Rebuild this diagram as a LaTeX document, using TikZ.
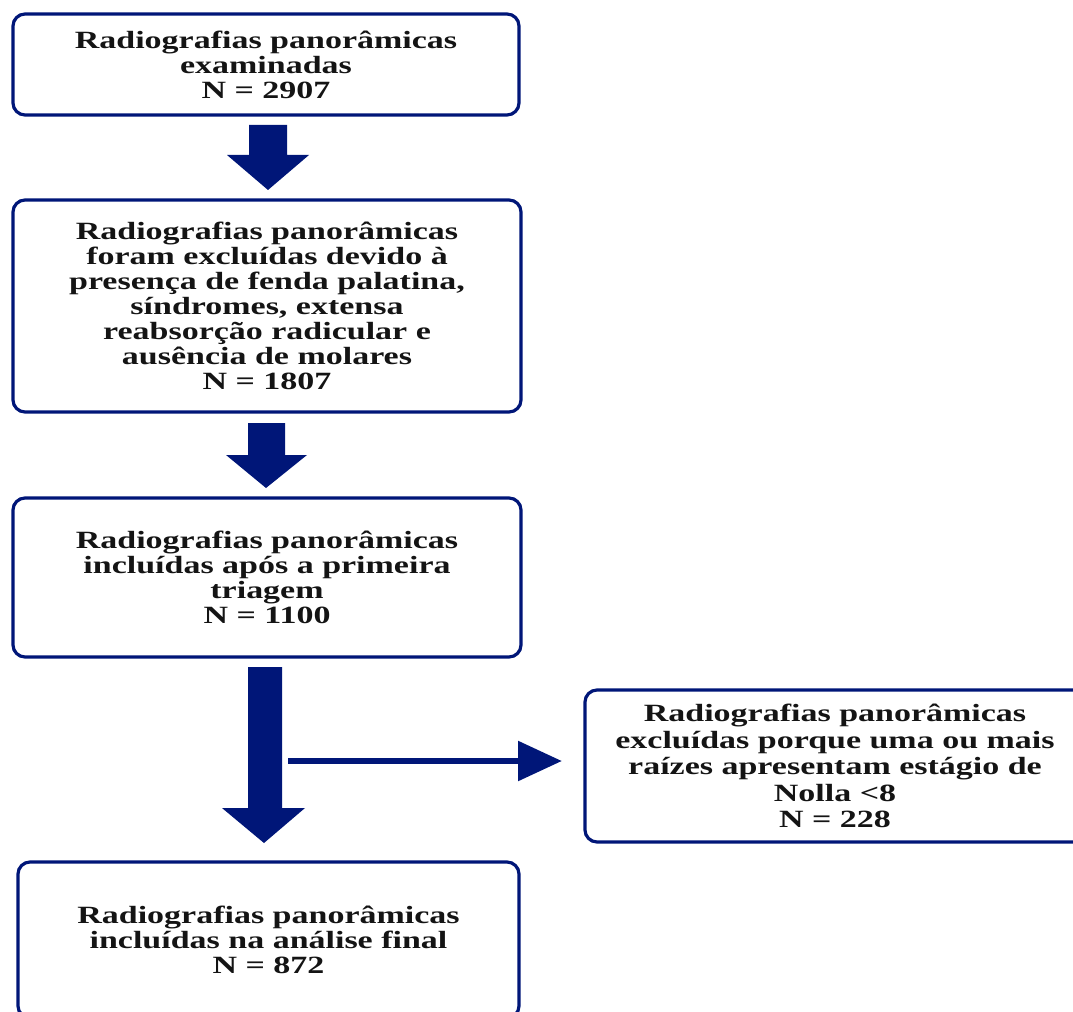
\documentclass[tikz,border=0pt]{standalone}
\usepackage{fontspec}
\setmainfont{Liberation Serif}[FakeStretch=1.37]
\usetikzlibrary{arrows.meta}
\definecolor{navy}{RGB}{0,22,120}
\definecolor{ink}{RGB}{20,20,20}
\begin{document}
\begin{tikzpicture}[x=0.75pt,y=-0.75pt,
  box/.style={draw=navy, line width=2.4pt, rounded corners=9pt, fill=white,
    align=center, inner sep=0pt, text=ink,
    font=\fontsize{18.6}{18.75}\selectfont\bfseries},
  blockarrow/.style={fill=navy, draw=none},
  thinarrow/.style={draw=navy, line width=5pt, -{Triangle[length=33pt,width=29pt]}}]
\useasboundingbox (0,0) rectangle (1073,1012);
\clip (0,0) rectangle (1073,1012);

\node[box, minimum width=379.5pt, minimum height=75.75pt] (b1) at (266,64.5)
  {Radiografias panorâmicas\\examinadas\\N = 2907};
\node[box, minimum width=381pt, minimum height=159pt] (b2) at (267,306)
  {Radiografias panorâmicas\\foram excluídas devido à\\presença de fenda palatina,\\síndromes, extensa\\reabsorção radicular e\\ausência de molares\\N = 1807};
\node[box, minimum width=381pt, minimum height=119.25pt] (b3) at (267,577.5)
  {Radiografias panorâmicas\\incluídas após a primeira\\triagem\\N = 1100};
\node[box, minimum width=375pt, minimum height=114pt,
  font=\fontsize{18.6}{19.9}\selectfont\bfseries] (b4) at (835,766)
  {Radiografias panorâmicas\\excluídas porque uma ou mais\\raízes apresentam estágio de\\Nolla <8\\N = 228};
\node[box, minimum width=375.75pt, minimum height=117pt] (b5) at (268.5,940)
  {Radiografias panorâmicas\\incluídas na análise final\\N = 872};

% block arrows
\fill[blockarrow] (249,125) -- (287,125) -- (287,155) -- (309,155) -- (268,190)
  -- (227,155) -- (249,155) -- cycle;
\fill[blockarrow] (248,423) -- (285,423) -- (285,455) -- (307,455) -- (266,488)
  -- (226,455) -- (248,455) -- cycle;
\fill[blockarrow] (248,667) -- (282,667) -- (282,808) -- (305,808) -- (264,843)
  -- (222,808) -- (248,808) -- cycle;

\coordinate (split) at (288,761);
\coordinate (tip) at (562,761);
\draw[thinarrow] (split) -- (tip);
\end{tikzpicture}
\end{document}
